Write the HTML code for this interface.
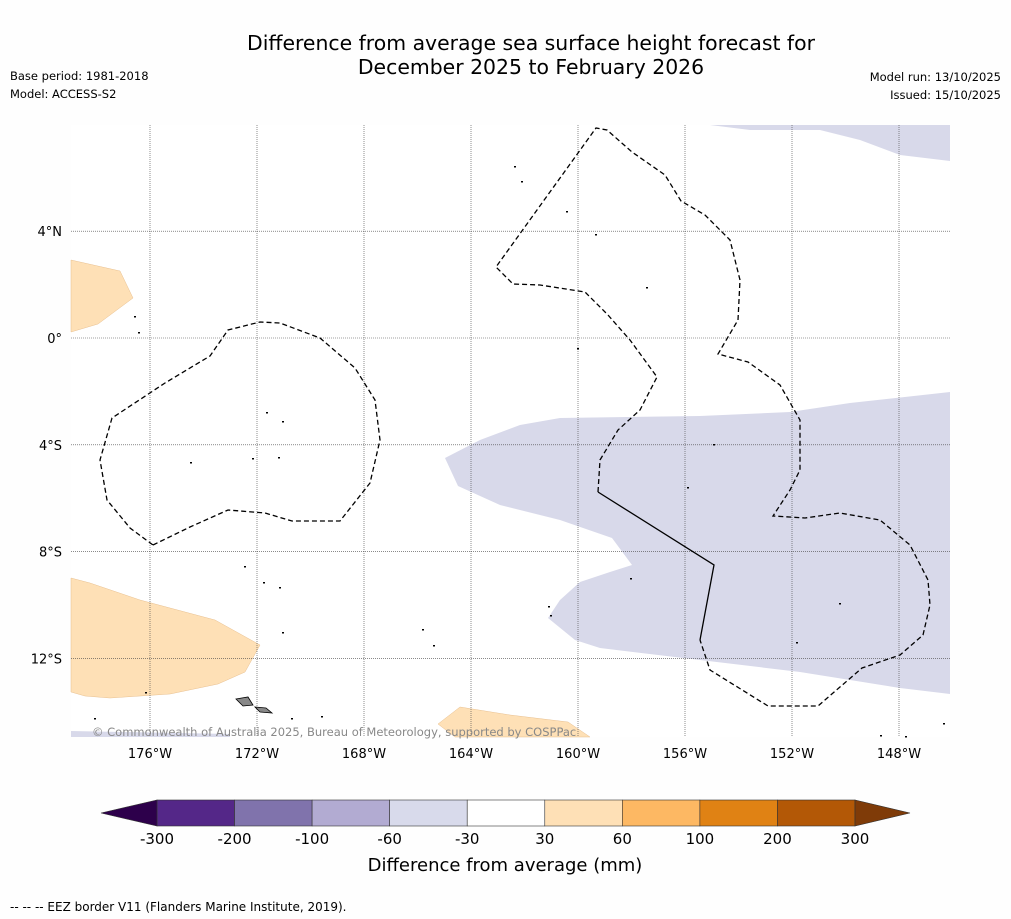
<!DOCTYPE html>
<html><head><meta charset="utf-8"><style>
body{margin:0;background:#fefefe;font-family:"DejaVu Sans",sans-serif;}
#wrap{position:relative;width:1011px;height:919px;overflow:hidden;}
</style></head><body>
<div id="wrap">
<svg width="1011" height="919" xmlns="http://www.w3.org/2000/svg" font-family="DejaVu Sans, sans-serif">
<text x="531" y="50" font-size="20.4" text-anchor="middle">Difference from average sea surface height forecast for</text>
<text x="531" y="74" font-size="20.4" text-anchor="middle">December 2025 to February 2026</text>
<text x="10" y="80" font-size="11.5">Base period: 1981-2018</text>
<text x="10" y="98" font-size="11.5">Model: ACCESS-S2</text>
<text x="1001" y="81" font-size="11.5" text-anchor="end">Model run: 13/10/2025</text>
<text x="1001" y="99" font-size="11.5" text-anchor="end">Issued: 15/10/2025</text>

<g>
<rect x="71" y="125" width="879" height="612" fill="#fff"/>
<polygon fill="#d8d9ea" points="710,125 950,125 950,161 900,155 860,140 820,130 750,130"/>
<polygon fill="#d8d9ea" points="445,458 480,440 520,425 560,418 700,416 790,412 850,403 950,392 950,694 900,688 800,672 700,660 600,648 575,640 548,618 560,600 580,582 610,572 632,565 612,538 560,520 500,505 458,486"/>
<polygon fill="#d8d9ea" points="71,731 230,734 230,737 71,737"/>
<polygon fill="#fee0b6" stroke="#e8c090" stroke-width="0.5" points="71,260 120,271 133,298 98,324 71,332"/>
<polygon fill="#fee0b6" stroke="#e8c090" stroke-width="0.5" points="71,578 90,583 140,600 215,620 260,645 245,672 218,684 170,694 110,698 85,696 71,692"/>
<polygon fill="#fee0b6" stroke="#e8c090" stroke-width="0.5" points="438,724 460,707 510,715 568,722 590,737 455,737"/>
<g id="grid"></g>
<polyline fill="none" stroke="#000" stroke-width="1.3" stroke-dasharray="5,3" points="153,545 190,527 228,510 265,513 292,521 340,521 370,483 380,440 375,400 355,368 320,338 280,323 260,322 228,330 210,356 165,383 112,418 100,460 107,500 130,528 153,545"/>
<polyline fill="none" stroke="#000" stroke-width="1.3" stroke-dasharray="5,3" points="598,492 600,460 618,430 640,410 657,377 630,340 608,315 585,292 540,285 513,284 496,267 596,128 607,130 632,152 665,175 681,201 705,215 730,240 740,280 738,320 718,354 748,362 780,385 800,420 800,470 790,490 773,516 805,518 840,513 880,520 910,545 928,580 930,605 923,635 900,655 862,668 818,706 768,706 710,670 700,640"/>
<polyline fill="none" stroke="#000" stroke-width="1.3" points="598,492 714,565 700,640"/>
<g id="islands"></g>
<polygon fill="#888" stroke="#000" stroke-width="0.8" points="236,699 248,697 253,705 243,706"/>
<polygon fill="#888" stroke="#000" stroke-width="0.8" points="255,707 266,708 272,713 260,712"/>
<text x="92" y="736" font-size="11.5" fill="#888">© Commonwealth of Australia 2025, Bureau of Meteorology, supported by COSPPac</text>
</g>
<g id="ticks"></g>
<g id="cbar"></g>
<text x="505" y="871" font-size="18" text-anchor="middle">Difference from average (mm)</text>
<text x="10" y="911" font-size="12">--  --  -- EEZ border V11 (Flanders Marine Institute, 2019).</text>
</svg>
</div>
<script>
const lonTicks=[-176,-172,-168,-164,-160,-156,-152,-148];
const latTicks=[4,0,-4,-8,-12];
const levelLabels=["-300","-200","-100","-60","-30","30","60","100","200","300"];
const levelColors=["#542788","#8073ac","#b2abd2","#d8daeb","#ffffff","#fee0b6","#fdb863","#e08214","#b35806"];
const extendColors=["#2d004b","#7f3b08"];
const islandPts=[[514,166],[521,181],[566,211],[595,234],[646,287],[134,316],[138,332],[577,348],[266,412],[282,421],[190,462],[252,458],[278,457],[713,444],[687,487],[244,566],[263,582],[279,587],[630,578],[548,606],[550,615],[839,603],[282,632],[422,629],[433,645],[796,642],[145,692],[94,718],[291,718],[321,716],[880,735],[905,736],[943,723]];
const NS="http://www.w3.org/2000/svg";
const X=lon=>150+(lon+176)*26.75;
const Y=lat=>338-lat*26.7;
const grid=document.getElementById('grid'),ticks=document.getElementById('ticks');
function mk(t,a,p){const e=document.createElementNS(NS,t);for(const k in a)e.setAttribute(k,a[k]);p.appendChild(e);return e;}
lonTicks.forEach(l=>{
 const x=X(l);
 const ln=mk('line',{x1:x,x2:x,y1:125,y2:737,stroke:'#444','stroke-width':0.6,'stroke-dasharray':'1,1'},grid);
 
 
 const t=mk('text',{x:x,y:758,'font-size':13,'text-anchor':'middle'},ticks);t.textContent=Math.abs(l)+'°W';
 
 
});
latTicks.forEach(l=>{
 const y=Y(l);
 const ln=mk('line',{x1:71,x2:950,y1:y,y2:y,stroke:'#444','stroke-width':0.6,'stroke-dasharray':'1,1'},grid);
 
 
 const t=mk('text',{x:62,y:y+5,'font-size':13,'text-anchor':'end'},ticks);t.textContent=l===0?'0°':Math.abs(l)+'°'+(l>0?'N':'S');
 
 
});
const isl=document.getElementById('islands');
islandPts.forEach(p=>{const c=mk('rect',{x:p[0],y:p[1],width:2,height:1.5,fill:'#000'},isl);
 
 });
const cb=document.getElementById('cbar');
const x0=157,x1=855,cy=800,ch=26,w=(x1-x0)/levelColors.length;
levelColors.forEach((c,i)=>{const r=mk('rect',{x:x0+i*w,y:cy,width:w,height:ch,fill:c,stroke:'#333','stroke-width':0.6},cb);
 
 });
const tl=mk('polygon',{points:`${x0},${cy} ${x0},${cy+ch} 101,${cy+ch/2}`,fill:extendColors[0],stroke:'#333','stroke-width':0.6},cb);


const tr=mk('polygon',{points:`${x1},${cy} ${x1},${cy+ch} 910,${cy+ch/2}`,fill:extendColors[1],stroke:'#333','stroke-width':0.6},cb);


levelLabels.forEach((s,i)=>{const t=mk('text',{x:x0+i*w,y:844,'font-size':15,'text-anchor':'middle'},cb);t.textContent=s;
 
 });
</script>
</body></html>
